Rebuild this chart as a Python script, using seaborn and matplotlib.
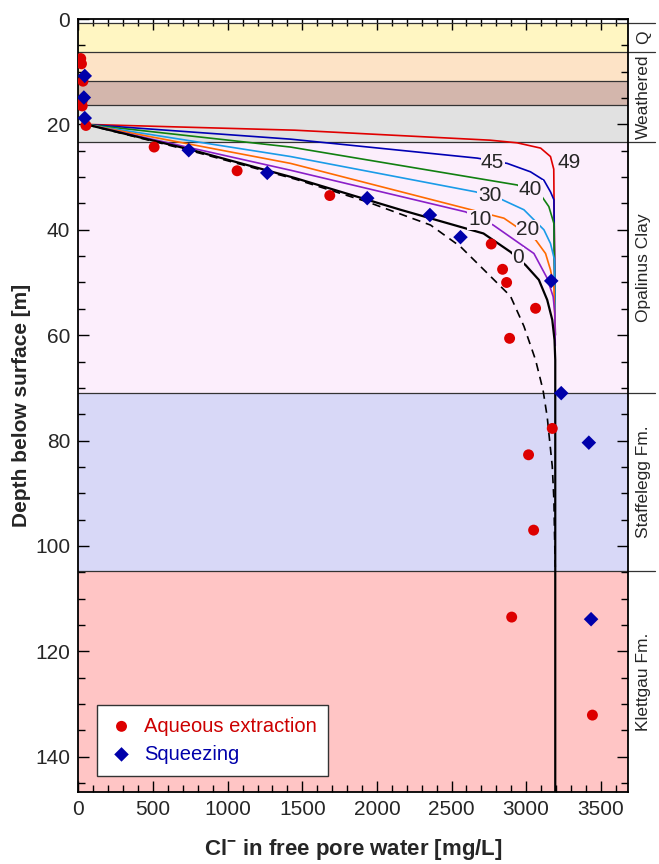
import matplotlib
matplotlib.use("Agg")
import matplotlib.pyplot as plt
import matplotlib.transforms as mtransforms
from matplotlib.ticker import MultipleLocator
import seaborn as sns
import pandas as pd

# ---------------- data ----------------
aq_conc = [15, 20, 30, 25, 25, 50, 507, 1063, 1684, 2766, 2842, 2869, 3063, 2889,
           3175, 3016, 3050, 2903, 3444]
aq_depth = [7.5, 8.5, 11.8, 15.5, 16.5, 20.2, 24.3, 28.8, 33.5, 42.7, 47.5, 50.0, 54.9, 60.6,
            77.7, 82.7, 97.0, 113.5, 132.1]

sq_conc = [42, 36, 42, 739, 1265, 1935, 2355, 2560, 3168, 3235, 3420, 3435]
sq_depth = [10.8, 14.9, 18.8, 24.9, 29.2, 34.0, 37.2, 41.4, 49.7, 71.0, 80.4, 113.9]

c49_x = [50, 1450, 2760, 2940, 3097, 3163, 3185, 3195]
c49_d = [20.0, 21.1, 23.0, 23.5, 24.5, 26.1, 28.5, 60]
c45_x = [50, 1421, 2672, 2873, 3029, 3119, 3163, 3186, 3195]
c45_d = [20.0, 22.8, 26.4, 27.4, 29.0, 30.6, 32.8, 34.3, 60]
c40_x = [50, 1421, 2940, 3108, 3152, 3186, 3195]
c40_d = [20.0, 24.3, 31.5, 33.8, 35.6, 38.8, 60]
c30_x = [50, 1421, 2661, 2840, 2985, 3119, 3163, 3190, 3195]
c30_d = [20.0, 26.1, 32.8, 34.3, 36.2, 40.0, 42.6, 45.7, 60]
c20_x = [50, 1421, 2851, 3063, 3130, 3163, 3186, 3195]
c20_d = [20.0, 27.4, 37.8, 41.9, 44.5, 47.6, 50.8, 60]
c10_x = [50, 1421, 2594, 2779, 3052, 3141, 3181, 3192, 3195]
c10_d = [20.0, 28.7, 36.6, 39.1, 44.5, 49.2, 52.7, 55.8, 62]
c0_x = [50, 739, 1454, 2158, 2714, 2895, 2996, 3085, 3141, 3175, 3190, 3195, 3195]
c0_d = [20.0, 24.7, 30.2, 36.2, 40.7, 44.2, 46.7, 49.5, 53.3, 57.1, 60.9, 64.7, 146.7]
cdash_x = [50, 739, 1454, 1935, 2359, 2560, 2717, 2895, 2985, 3063, 3113, 3141, 3175, 3186, 3190, 3195]
cdash_d = [20.0, 24.9, 30.4, 34.7, 39.1, 43.2, 47.6, 52.6, 58.3, 64.7, 70.4, 75.5, 84.9, 91.3, 97.6, 104]

curve_labels = ["49", "45", "40", "30", "20", "10", "0"]
label_x = [3290, 2775, 3029, 2755, 3012, 2688, 2945]
label_d = [27.3, 27.3, 32.4, 33.4, 40.0, 38.1, 45.2]

layer_top = [0.8, 6.2, 11.8, 16.4, 23.4, 71.0, 104.7]
layer_bot = [6.2, 11.8, 16.4, 23.4, 71.0, 104.7, 146.7]
layer_colors = ["#FFF6C2", "#FDE3C6", "#D3B6AC", "#E1E1E1", "#FCEEFC", "#D8D8F7", "#FFC5C5"]

unit_names = ["Q", "Weathered", "Opalinus Clay", "Staffelegg Fm.", "Klettgau Fm."]
unit_top = [0.8, 6.2, 23.4, 71.0, 104.7]
unit_bot = [6.2, 23.4, 71.0, 104.7, 146.7]

# ---------------- style ----------------
sns.set_theme(style="ticks")
plt.rcParams["font.family"] = ["Liberation Sans", "DejaVu Sans"]
plt.rcParams["mathtext.default"] = "regular"

fig = plt.figure(figsize=(6.59, 8.64), dpi=100)
ax = fig.add_axes([0.1191, 0.0833, 0.8333, 0.8947])

XMAX, YMAX = 3680, 146.7

# layers
for t, b, c in zip(layer_top, layer_bot, layer_colors):
    ax.axhspan(t, b, color=c, lw=0, zorder=0)
for t in layer_top:
    ax.axhline(t, color="#333333", lw=0.9, zorder=1)

# curves
curves = [
    (c49_x, c49_d, "#E00000", 1.2),
    (c45_x, c45_d, "#0000B4", 1.2),
    (c40_x, c40_d, "#118011", 1.2),
    (c30_x, c30_d, "#1A9BE8", 1.2),
    (c20_x, c20_d, "#FF6A00", 1.2),
    (c10_x, c10_d, "#8A1FC8", 1.2),
    (c0_x, c0_d, "black", 1.6),
]
for xs, ds, col, lw in curves:
    sns.lineplot(x=xs, y=ds, sort=False, estimator=None, color=col, lw=lw, ax=ax, zorder=3)
sns.lineplot(x=cdash_x, y=cdash_d, sort=False, estimator=None, color="black", lw=1.2,
             ax=ax, zorder=3, linestyle=(0, (5, 3.5)))

for lab, lx, ld in zip(curve_labels, label_x, label_d):
    ax.text(lx, ld, lab, fontsize=15, ha="center", va="center", zorder=4,
            bbox=dict(facecolor="#FCEEFC", edgecolor="none", pad=0.3))

# points
sns.scatterplot(x=aq_conc, y=aq_depth, color="#DD0000", marker="o", s=62, edgecolor="none",
                ax=ax, zorder=5, label="Aqueous extraction")
sns.scatterplot(x=sq_conc, y=sq_depth, color="#0000AA", marker="D", s=55, edgecolor="none",
                ax=ax, zorder=5, label="Squeezing")

ax.set_xlim(0, XMAX)
ax.set_ylim(YMAX, 0)

# ticks
ax.xaxis.set_major_locator(MultipleLocator(500))
ax.xaxis.set_minor_locator(MultipleLocator(100))
ax.yaxis.set_major_locator(MultipleLocator(20))
ax.yaxis.set_minor_locator(MultipleLocator(5))
ax.tick_params(which="both", direction="in", top=True, right=True, color="black", width=1)
ax.tick_params(which="major", length=8, labelsize=15, pad=6)
ax.tick_params(which="minor", length=5)
for s in ax.spines.values():
    s.set_color("black")
    s.set_linewidth(1.3)

ax.set_ylabel("Depth below surface [m]", fontsize=15, fontweight="bold", labelpad=3)
ax.set_xlabel("Cl$^{-}$ in free pore water [mg/L]", fontsize=16, fontweight="bold", labelpad=13)

# right side unit labels
trans = mtransforms.blended_transform_factory(ax.transAxes, ax.transData)
for t in [0.8, 6.2, 23.4, 71.0, 104.7]:
    ax.plot([1.0, 1.05], [t, t], transform=trans, color="#333333", lw=0.9, clip_on=False)
for name, t, b in zip(unit_names, unit_top, unit_bot):
    ax.text(1.029, (t + b) / 2, name, transform=trans, rotation=90, ha="center", va="center",
            fontsize=12.5)

# legend
leg = ax.legend(loc="lower left", bbox_to_anchor=(0.016, 0.008), frameon=True, fancybox=False,
                edgecolor="#333333", facecolor="white", framealpha=1, fontsize=14.5,
                handletextpad=0.5, borderpad=0.6, labelspacing=0.45, handlelength=1.2)
leg.get_frame().set_linewidth(1.0)
for txt, col in zip(leg.get_texts(), ["#CC0000", "#0000AA"]):
    txt.set_color(col)

fig.savefig("out.png", dpi=100)
